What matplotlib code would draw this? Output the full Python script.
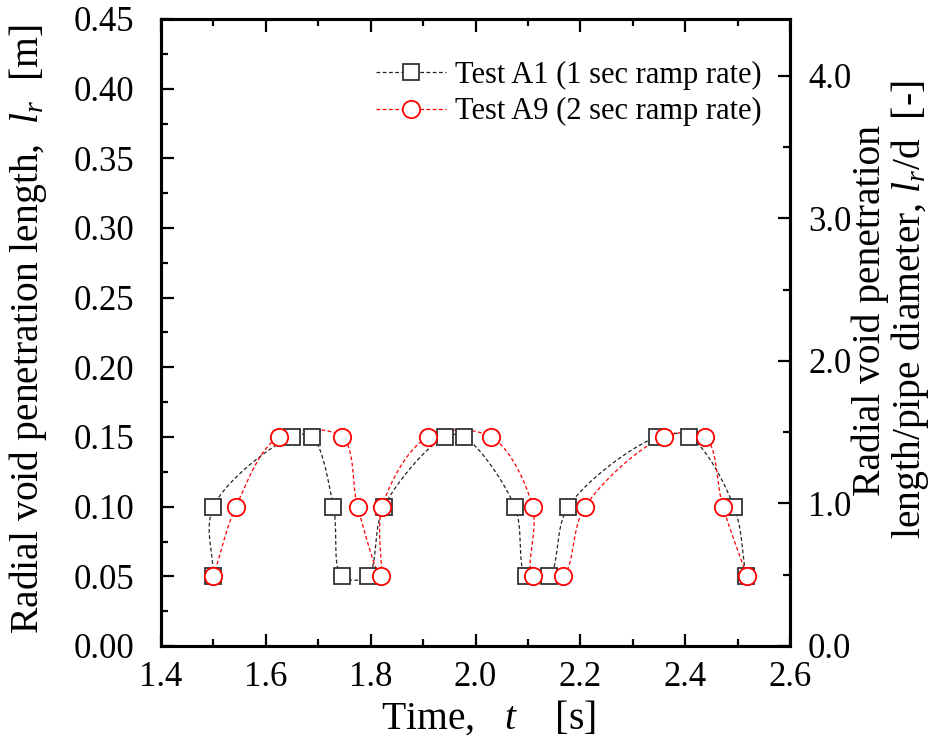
import numpy as np
import matplotlib
matplotlib.use("Agg")
import matplotlib.pyplot as plt
from matplotlib.ticker import MultipleLocator, FormatStrFormatter
from matplotlib.lines import Line2D

plt.rcParams["font.family"] = ["Liberation Serif", "DejaVu Serif"]
plt.rcParams["mathtext.fontset"] = "custom"
plt.rcParams["mathtext.rm"] = "Liberation Serif"
plt.rcParams["mathtext.it"] = "Liberation Serif:italic"

# Test A1 (1 s ramp) : time [s], radial void penetration length [m]
a1_time = [1.500, 1.500, 1.649, 1.688, 1.729, 1.745, 1.794, 1.825, 1.941, 1.978,
           2.075, 2.097, 2.140, 2.177, 2.346, 2.408, 2.493, 2.516]
a1_length = [0.05, 0.10, 0.15, 0.15, 0.10, 0.05, 0.05, 0.10, 0.15, 0.15,
             0.10, 0.05, 0.05, 0.10, 0.15, 0.15, 0.10, 0.05]

# Test A9 (2 s ramp)
a9_time = [1.500, 1.543, 1.625, 1.745, 1.775, 1.819, 1.822, 1.909, 2.030, 2.109,
           2.110, 2.166, 2.209, 2.360, 2.438, 2.472, 2.518]
a9_length = [0.05, 0.10, 0.15, 0.15, 0.10, 0.05, 0.10, 0.15, 0.15, 0.10,
             0.05, 0.05, 0.10, 0.15, 0.15, 0.10, 0.05]

pipe_diameter = 0.1023  # [m]

XMIN, XMAX = 1.4, 2.6
YMIN, YMAX = 0.0, 0.45


def smooth_path(x, y, n=40):
    """Centripetal Catmull-Rom curve through the points (computed in
    axis-proportional units so both directions weigh equally)."""
    sx, sy = 630.0 / (XMAX - XMIN), 627.0 / (YMAX - YMIN)
    P = np.column_stack([(np.asarray(x) - XMIN) * sx, (np.asarray(y) - YMIN) * sy])
    P = np.vstack([2 * P[0] - P[1], P, 2 * P[-1] - P[-2]])
    out = []
    for i in range(1, len(P) - 2):
        p0, p1, p2, p3 = P[i - 1], P[i], P[i + 1], P[i + 2]
        def tj(ti, a, b):
            return ti + max(np.linalg.norm(b - a), 1e-6) ** 0.5
        t0 = 0.0
        t1 = tj(t0, p0, p1)
        t2 = tj(t1, p1, p2)
        t3 = tj(t2, p2, p3)
        t = np.linspace(t1, t2, n)[:, None]
        A1 = (t1 - t) / (t1 - t0) * p0 + (t - t0) / (t1 - t0) * p1
        A2 = (t2 - t) / (t2 - t1) * p1 + (t - t1) / (t2 - t1) * p2
        A3 = (t3 - t) / (t3 - t2) * p2 + (t - t2) / (t3 - t2) * p3
        B1 = (t2 - t) / (t2 - t0) * A1 + (t - t0) / (t2 - t0) * A2
        B2 = (t3 - t) / (t3 - t1) * A2 + (t - t1) / (t3 - t1) * A3
        C = (t2 - t) / (t2 - t1) * B1 + (t - t1) / (t2 - t1) * B2
        out.append(C)
    C = np.vstack(out)
    return C[:, 0] / sx + XMIN, C[:, 1] / sy + YMIN


W, H = 949, 747
fig = plt.figure(figsize=(W / 100, H / 100), dpi=100)
ax = fig.add_axes([161 / W, 1 - 646 / H, (790 - 161) / W, (646 - 19) / H])

line_kw = dict(linestyle=(0, (3, 2)), linewidth=0.9, zorder=2)
cx, cy = smooth_path(a1_time, a1_length)
ax.plot(cx, cy, color="#222222", **line_kw)
cx, cy = smooth_path(a9_time, a9_length)
ax.plot(cx, cy, color="red", **line_kw)

ax.plot(a1_time, a1_length, linestyle="none", marker="s", markersize=11,
        markerfacecolor="white", markeredgecolor="#333333", markeredgewidth=1.3, zorder=3)
ax.plot(a9_time, a9_length, linestyle="none", marker="o", markersize=12.5,
        markerfacecolor="white", markeredgecolor="red", markeredgewidth=1.3, zorder=4)

TICK_FS = 25
LABEL_FS = 28.5

ax.set_xlim(XMIN, XMAX)
ax.set_ylim(YMIN, YMAX)
ax.xaxis.set_major_locator(MultipleLocator(0.2))
ax.xaxis.set_minor_locator(MultipleLocator(0.1))
ax.yaxis.set_major_locator(MultipleLocator(0.05))
ax.yaxis.set_minor_locator(MultipleLocator(0.025))
ax.xaxis.set_major_formatter(FormatStrFormatter("%.1f"))
ax.yaxis.set_major_formatter(FormatStrFormatter("%.2f"))
ax.tick_params(axis="x", which="both", direction="in", top=True, bottom=True,
               labelsize=TICK_FS, pad=11)
ax.tick_params(axis="y", which="both", direction="in", left=True, right=False,
               labelsize=TICK_FS, pad=19)
ax.tick_params(which="major", length=9, width=1.6)
ax.tick_params(which="minor", length=5, width=1.6)
for s in ax.spines.values():
    s.set_linewidth(2.2)

# secondary axis: length normalised by pipe diameter
ax2 = ax.twinx()
ax2.set_ylim(YMIN / pipe_diameter, YMAX / pipe_diameter)
ax2.yaxis.set_major_locator(MultipleLocator(1.0))
ax2.yaxis.set_minor_locator(MultipleLocator(0.5))
ax2.yaxis.set_major_formatter(FormatStrFormatter("%.1f"))
ax2.tick_params(axis="y", which="both", direction="in", labelsize=TICK_FS, pad=13)
ax2.tick_params(which="major", length=9, width=1.6)
ax2.tick_params(which="minor", length=5, width=1.6)
for s in ax2.spines.values():
    s.set_linewidth(2.2)

# axis titles
fig.text(488 / W, 1 - 718 / H, r"Time,   $t$    [s]", fontsize=LABEL_FS,
         ha="center", va="center")
fig.text(28 / W, 1 - 329 / H, r"Radial void penetration length,  $l_r$  [m]",
         fontsize=LABEL_FS, rotation=90, ha="center", va="center")
fig.text(891 / W, 1 - 310 / H,
         "Radial void penetration\nlength/pipe diameter, $l_r$/d  [-]",
         fontsize=LABEL_FS, rotation=90, ha="center", va="center",
         multialignment="center", linespacing=1.0)

handles = [
    Line2D([], [], color="#222222", linestyle=(0, (3, 2)), linewidth=0.9, marker="s",
           markersize=11, markerfacecolor="white", markeredgecolor="#333333",
           markeredgewidth=1.3),
    Line2D([], [], color="red", linestyle=(0, (3, 2)), linewidth=0.9, marker="o",
           markersize=12.5, markerfacecolor="white", markeredgecolor="red",
           markeredgewidth=1.3),
]
ax.legend(handles, ["Test A1 (1 sec ramp rate)", "Test A9 (2 sec ramp rate)"],
          loc="upper right", bbox_to_anchor=(0.975, 0.953), frameon=False,
          fontsize=22, handlelength=2.3, handletextpad=0.3, labelspacing=0.25,
          borderaxespad=0.0)

fig.savefig("out.png", dpi=100)
